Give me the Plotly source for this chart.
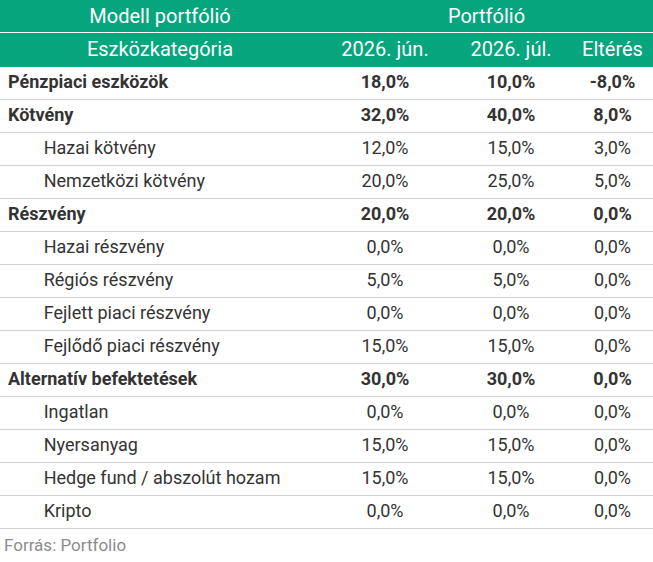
import plotly.graph_objects as go

# rows of the table: label, level (0 = category, 1 = sub item), values
labels = ["Pénzpiaci eszközök", "Kötvény", "Hazai kötvény", "Nemzetközi kötvény",
          "Részvény", "Hazai részvény", "Régiós részvény", "Fejlett piaci részvény",
          "Fejlődő piaci részvény", "Alternatív befektetések", "Ingatlan", "Nyersanyag",
          "Hedge fund / abszolút hozam", "Kripto"]
levels = [0, 0, 1, 1, 0, 1, 1, 1, 1, 0, 1, 1, 1, 1]
jun = [18.0, 32.0, 12.0, 20.0, 20.0, 0.0, 5.0, 0.0, 15.0, 30.0, 0.0, 15.0, 15.0, 0.0]
jul = [10.0, 40.0, 15.0, 25.0, 20.0, 0.0, 5.0, 0.0, 15.0, 30.0, 0.0, 15.0, 15.0, 0.0]
diff = [-8.0, 8.0, 3.0, 5.0, 0.0, 0.0, 0.0, 0.0, 0.0, 0.0, 0.0, 0.0, 0.0, 0.0]

top_header = ["Modell portfólió", "Portfólió"]
col_header = ["Eszközkategória", "2026. jún.", "2026. júl.", "Eltérés"]
source = "Forrás: Portfolio"

W, H = 653, 562
ROW = 33
GREEN = "#05a57d"
TEXT = "#333333"
FONT = "Roboto"
NB = "\u00a0"  # no-break spaces keep plotly from growing / wrapping the rows
clear = "rgba(0,0,0,0)"
widths = [320, 130, 122, 81]


def pct(v):
    return f"{v:.1f}".replace(".", ",") + "%"


def nb(s):
    return s.replace(" ", NB)


def columns(level):
    # only the rows of the given level, the rest left blank
    keep = [lv == level for lv in levels]
    pad = NB * 8 if level else ""
    c1 = [nb(pad + l) if k else "" for l, k in zip(labels, keep)]
    c2 = [pct(v) if k else "" for v, k in zip(jun, keep)]
    c3 = [pct(v) if k else "" for v, k in zip(jul, keep)]
    c4 = [pct(v) if k else "" for v, k in zip(diff, keep)]
    return [c1, c2, c3, c4]


top = 1 - ROW / H

fig = go.Figure()

# empty trace so the cartesian grid (row separators) is drawn
fig.add_trace(go.Scatter(x=[None], y=[None], showlegend=False, hoverinfo="skip"))

fig.add_trace(go.Table(
    domain=dict(x=[0, 1], y=[top, 1]),
    columnwidth=[widths[0], sum(widths[1:])],
    header=dict(values=[nb(t) for t in top_header], fill_color=GREEN, height=ROW,
                align="center", line=dict(color=GREEN, width=1),
                font=dict(family=FONT, size=20, color="white")),
    cells=dict(values=[[], []], height=ROW),
))

# category rows (bold) underneath, sub rows (regular) + green header on top
for level, wt in [(0, 700), (1, 400)]:
    if level == 0:
        head = dict(values=["", "", "", ""], fill_color=clear, height=ROW,
                    line=dict(color=clear, width=0))
    else:
        head = dict(values=[nb(t) for t in col_header], fill_color=GREEN, height=ROW,
                    align="center", line=dict(color=GREEN, width=1),
                    font=dict(family=FONT, size=20, color="white"))
    fig.add_trace(go.Table(
        domain=dict(x=[0, 1], y=[0, top]),
        columnwidth=widths,
        header=head,
        cells=dict(values=columns(level), height=ROW,
                   align=["left", "center", "center", "center"],
                   fill_color=clear, line=dict(color=clear, width=0),
                   font=dict(family=FONT, size=18, color=TEXT, weight=wt)),
    ))

n_head = 2
fig.update_layout(
    width=W, height=H,
    margin=dict(l=0, r=0, t=0, b=0),
    paper_bgcolor="white", plot_bgcolor="white",
    font=dict(family=FONT),
    xaxis=dict(range=[0, 1], showgrid=False, zeroline=False, showticklabels=False,
               fixedrange=True),
    yaxis=dict(range=[H / ROW, 0], zeroline=False, showticklabels=False, ticks="",
               tickvals=list(range(n_head, n_head + len(labels) + 1)),
               gridcolor="#d2d2d2", gridwidth=1, fixedrange=True),
    annotations=[dict(text=source, x=0, xref="paper", xanchor="left", xshift=2,
                      y=n_head + len(labels) + 0.5, yref="y", yanchor="middle",
                      showarrow=False, font=dict(family=FONT, size=17, color="#8c8c8c"))],
)

fig.write_html("out.html", config={"displayModeBar": False},
               post_script="document.body.style.margin = '0';")
